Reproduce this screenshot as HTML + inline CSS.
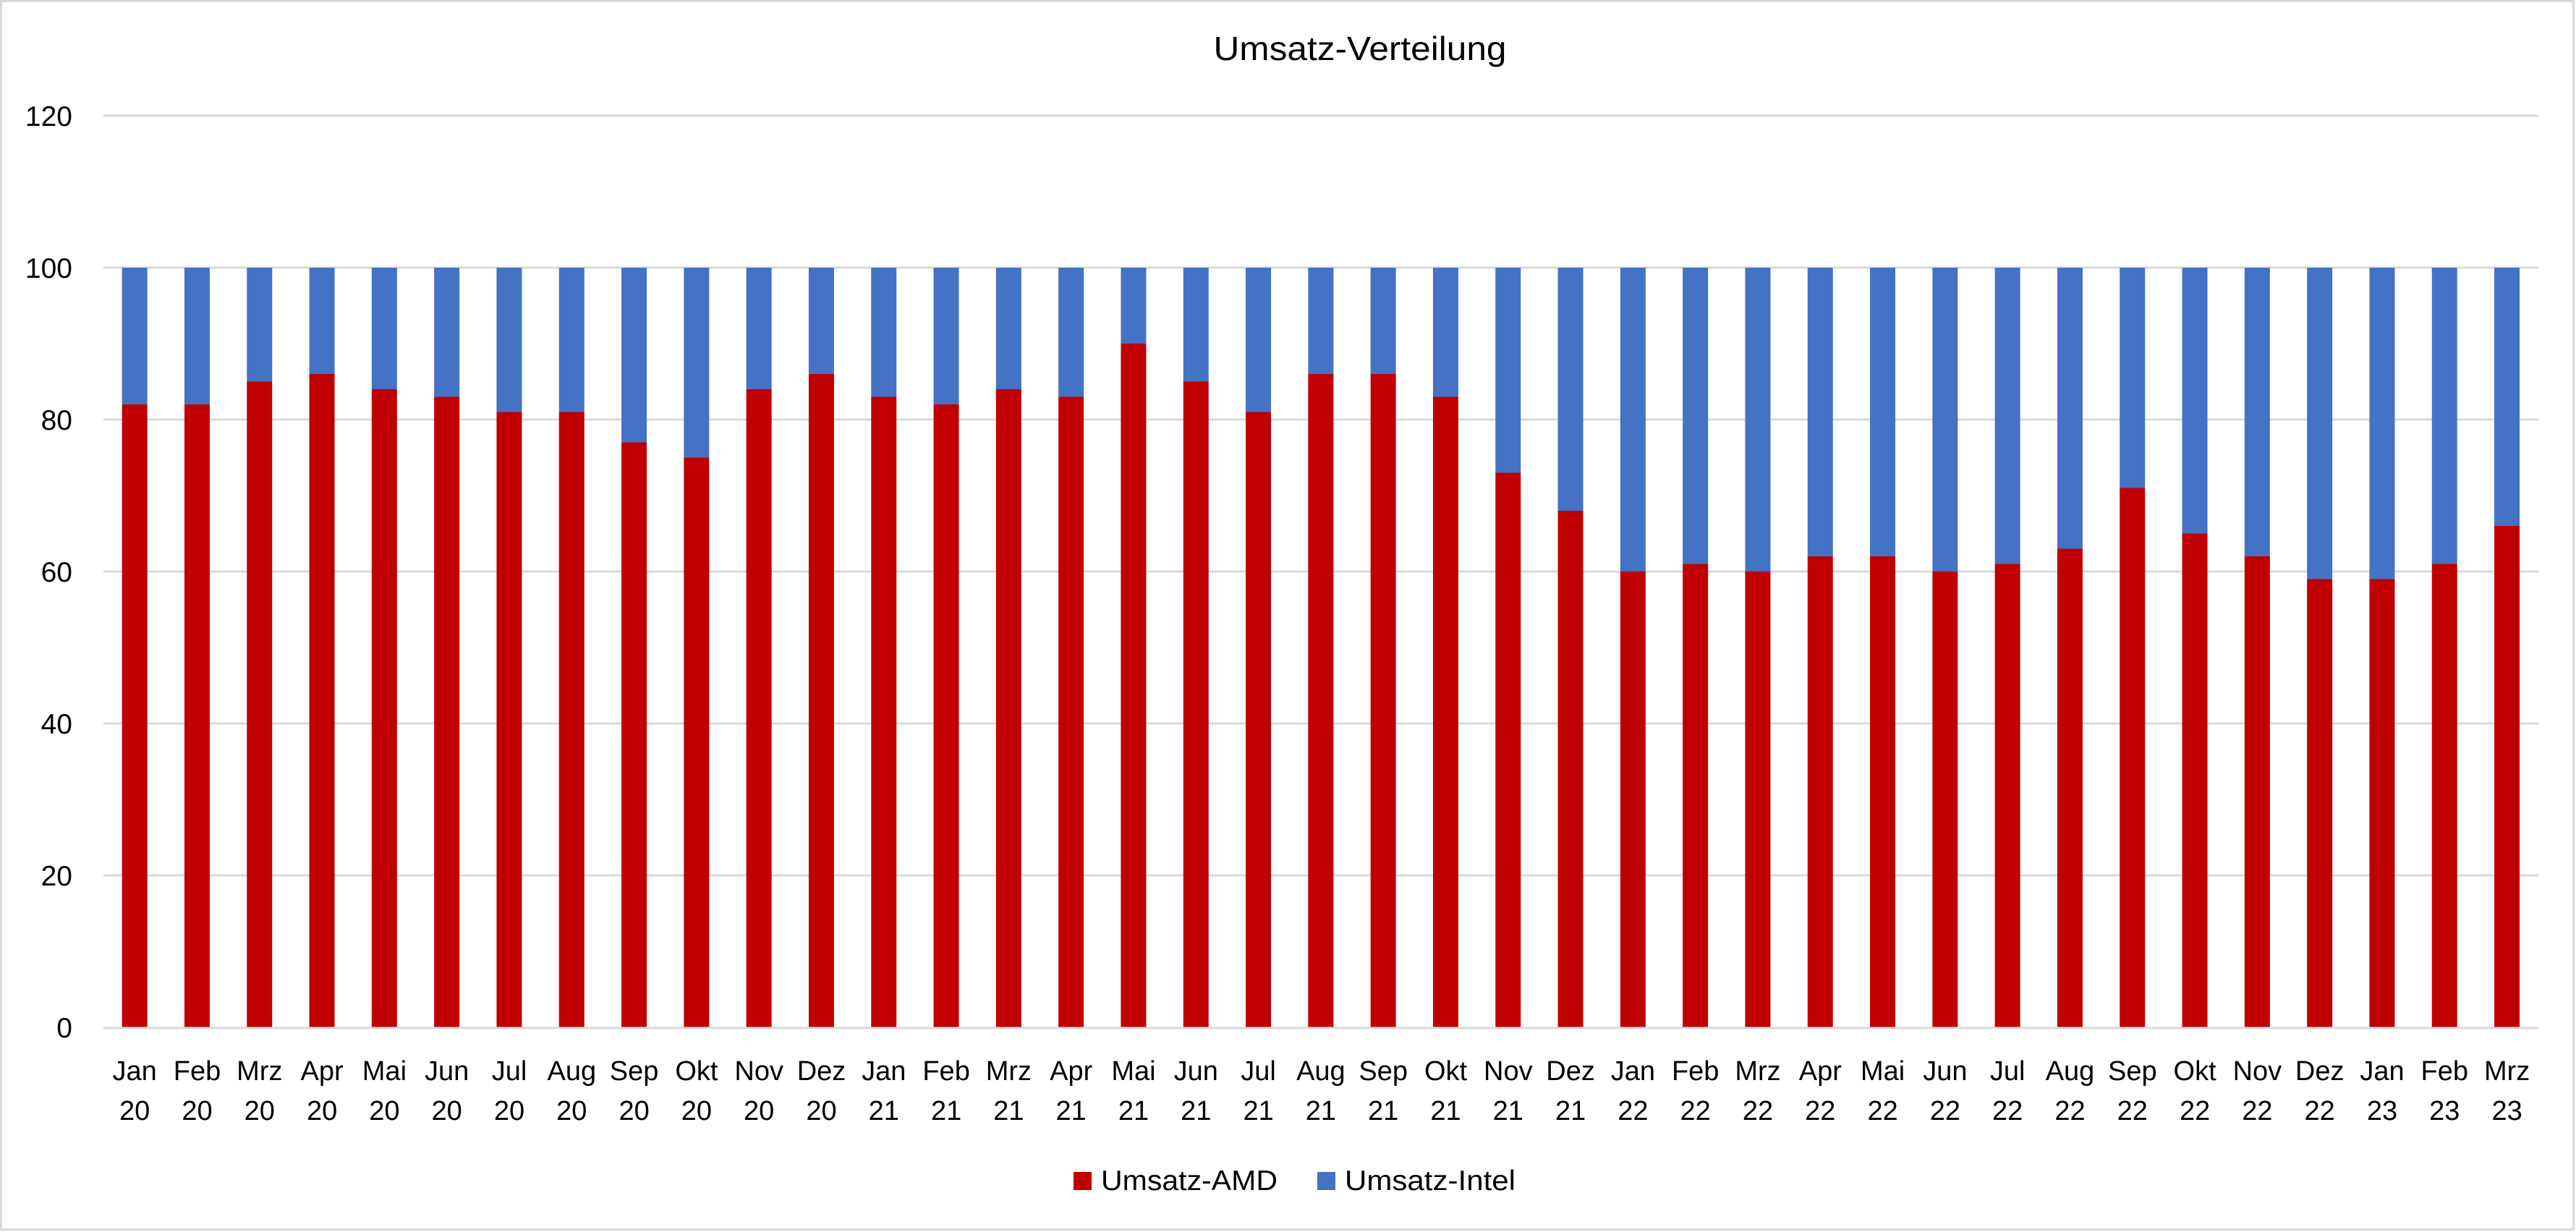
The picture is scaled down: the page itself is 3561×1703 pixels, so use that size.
<!DOCTYPE html>
<html><head><meta charset="utf-8"><style>
html,body{margin:0;padding:0;background:#fff;}
svg{display:block;}
text{font-family:"Liberation Sans",sans-serif;fill:#000;}
</style></head><body>
<svg width="3561" height="1703" viewBox="0 0 3561 1703" xmlns="http://www.w3.org/2000/svg">
<rect x="1.5" y="1.5" width="3556" height="1698" fill="#fff" stroke="#d9d9d9" stroke-width="3"/>
<text x="1880" y="83" font-size="46" text-anchor="middle" textLength="405" lengthAdjust="spacingAndGlyphs">Umsatz-Verteilung</text>
<g stroke="#d9d9d9" stroke-width="3">
<line x1="143" x2="3509" y1="160" y2="160"/>
<line x1="143" x2="3509" y1="370" y2="370"/>
<line x1="143" x2="3509" y1="580" y2="580"/>
<line x1="143" x2="3509" y1="790" y2="790"/>
<line x1="143" x2="3509" y1="1000" y2="1000"/>
<line x1="143" x2="3509" y1="1210" y2="1210"/>
</g>
<g font-size="39" text-anchor="end">
<text x="100" y="174">120</text>
<text x="100" y="384">100</text>
<text x="100" y="594">80</text>
<text x="100" y="804">60</text>
<text x="100" y="1014">40</text>
<text x="100" y="1224">20</text>
<text x="100" y="1434">0</text>
</g>
<g transform="translate(168.65 1420) scale(86.3 -10.5)">
<g fill="#c00000">
<rect x="0" y="0" width="0.4056" height="82"/><rect x="1" y="0" width="0.4056" height="82"/><rect x="2" y="0" width="0.4056" height="85"/><rect x="3" y="0" width="0.4056" height="86"/><rect x="4" y="0" width="0.4056" height="84"/><rect x="5" y="0" width="0.4056" height="83"/><rect x="6" y="0" width="0.4056" height="81"/><rect x="7" y="0" width="0.4056" height="81"/><rect x="8" y="0" width="0.4056" height="77"/><rect x="9" y="0" width="0.4056" height="75"/><rect x="10" y="0" width="0.4056" height="84"/><rect x="11" y="0" width="0.4056" height="86"/><rect x="12" y="0" width="0.4056" height="83"/><rect x="13" y="0" width="0.4056" height="82"/><rect x="14" y="0" width="0.4056" height="84"/><rect x="15" y="0" width="0.4056" height="83"/><rect x="16" y="0" width="0.4056" height="90"/><rect x="17" y="0" width="0.4056" height="85"/><rect x="18" y="0" width="0.4056" height="81"/><rect x="19" y="0" width="0.4056" height="86"/><rect x="20" y="0" width="0.4056" height="86"/><rect x="21" y="0" width="0.4056" height="83"/><rect x="22" y="0" width="0.4056" height="73"/><rect x="23" y="0" width="0.4056" height="68"/><rect x="24" y="0" width="0.4056" height="60"/><rect x="25" y="0" width="0.4056" height="61"/><rect x="26" y="0" width="0.4056" height="60"/><rect x="27" y="0" width="0.4056" height="62"/><rect x="28" y="0" width="0.4056" height="62"/><rect x="29" y="0" width="0.4056" height="60"/><rect x="30" y="0" width="0.4056" height="61"/><rect x="31" y="0" width="0.4056" height="63"/><rect x="32" y="0" width="0.4056" height="71"/><rect x="33" y="0" width="0.4056" height="65"/><rect x="34" y="0" width="0.4056" height="62"/><rect x="35" y="0" width="0.4056" height="59"/><rect x="36" y="0" width="0.4056" height="59"/><rect x="37" y="0" width="0.4056" height="61"/><rect x="38" y="0" width="0.4056" height="66"/>
</g>
<g fill="#4472c4">
<rect x="0" y="82" width="0.4056" height="18"/><rect x="1" y="82" width="0.4056" height="18"/><rect x="2" y="85" width="0.4056" height="15"/><rect x="3" y="86" width="0.4056" height="14"/><rect x="4" y="84" width="0.4056" height="16"/><rect x="5" y="83" width="0.4056" height="17"/><rect x="6" y="81" width="0.4056" height="19"/><rect x="7" y="81" width="0.4056" height="19"/><rect x="8" y="77" width="0.4056" height="23"/><rect x="9" y="75" width="0.4056" height="25"/><rect x="10" y="84" width="0.4056" height="16"/><rect x="11" y="86" width="0.4056" height="14"/><rect x="12" y="83" width="0.4056" height="17"/><rect x="13" y="82" width="0.4056" height="18"/><rect x="14" y="84" width="0.4056" height="16"/><rect x="15" y="83" width="0.4056" height="17"/><rect x="16" y="90" width="0.4056" height="10"/><rect x="17" y="85" width="0.4056" height="15"/><rect x="18" y="81" width="0.4056" height="19"/><rect x="19" y="86" width="0.4056" height="14"/><rect x="20" y="86" width="0.4056" height="14"/><rect x="21" y="83" width="0.4056" height="17"/><rect x="22" y="73" width="0.4056" height="27"/><rect x="23" y="68" width="0.4056" height="32"/><rect x="24" y="60" width="0.4056" height="40"/><rect x="25" y="61" width="0.4056" height="39"/><rect x="26" y="60" width="0.4056" height="40"/><rect x="27" y="62" width="0.4056" height="38"/><rect x="28" y="62" width="0.4056" height="38"/><rect x="29" y="60" width="0.4056" height="40"/><rect x="30" y="61" width="0.4056" height="39"/><rect x="31" y="63" width="0.4056" height="37"/><rect x="32" y="71" width="0.4056" height="29"/><rect x="33" y="65" width="0.4056" height="35"/><rect x="34" y="62" width="0.4056" height="38"/><rect x="35" y="59" width="0.4056" height="41"/><rect x="36" y="59" width="0.4056" height="41"/><rect x="37" y="61" width="0.4056" height="39"/><rect x="38" y="66" width="0.4056" height="34"/>
</g>
</g>
<line x1="143" x2="3509" y1="1421" y2="1421" stroke="#d9d9d9" stroke-width="3"/>
<g font-size="38" text-anchor="middle">
<text x="186.2" y="1493">Jan</text><text x="186.2" y="1548">20</text>
<text x="272.5" y="1493">Feb</text><text x="272.5" y="1548">20</text>
<text x="358.8" y="1493">Mrz</text><text x="358.8" y="1548">20</text>
<text x="445.1" y="1493">Apr</text><text x="445.1" y="1548">20</text>
<text x="531.4" y="1493">Mai</text><text x="531.4" y="1548">20</text>
<text x="617.7" y="1493">Jun</text><text x="617.7" y="1548">20</text>
<text x="704" y="1493">Jul</text><text x="704" y="1548">20</text>
<text x="790.3" y="1493">Aug</text><text x="790.3" y="1548">20</text>
<text x="876.6" y="1493">Sep</text><text x="876.6" y="1548">20</text>
<text x="962.9" y="1493">Okt</text><text x="962.9" y="1548">20</text>
<text x="1049.2" y="1493">Nov</text><text x="1049.2" y="1548">20</text>
<text x="1135.5" y="1493">Dez</text><text x="1135.5" y="1548">20</text>
<text x="1221.8" y="1493">Jan</text><text x="1221.8" y="1548">21</text>
<text x="1308.1" y="1493">Feb</text><text x="1308.1" y="1548">21</text>
<text x="1394.4" y="1493">Mrz</text><text x="1394.4" y="1548">21</text>
<text x="1480.7" y="1493">Apr</text><text x="1480.7" y="1548">21</text>
<text x="1567" y="1493">Mai</text><text x="1567" y="1548">21</text>
<text x="1653.3" y="1493">Jun</text><text x="1653.3" y="1548">21</text>
<text x="1739.6" y="1493">Jul</text><text x="1739.6" y="1548">21</text>
<text x="1825.9" y="1493">Aug</text><text x="1825.9" y="1548">21</text>
<text x="1912.2" y="1493">Sep</text><text x="1912.2" y="1548">21</text>
<text x="1998.5" y="1493">Okt</text><text x="1998.5" y="1548">21</text>
<text x="2084.8" y="1493">Nov</text><text x="2084.8" y="1548">21</text>
<text x="2171.1" y="1493">Dez</text><text x="2171.1" y="1548">21</text>
<text x="2257.4" y="1493">Jan</text><text x="2257.4" y="1548">22</text>
<text x="2343.7" y="1493">Feb</text><text x="2343.7" y="1548">22</text>
<text x="2430" y="1493">Mrz</text><text x="2430" y="1548">22</text>
<text x="2516.3" y="1493">Apr</text><text x="2516.3" y="1548">22</text>
<text x="2602.6" y="1493">Mai</text><text x="2602.6" y="1548">22</text>
<text x="2688.9" y="1493">Jun</text><text x="2688.9" y="1548">22</text>
<text x="2775.2" y="1493">Jul</text><text x="2775.2" y="1548">22</text>
<text x="2861.5" y="1493">Aug</text><text x="2861.5" y="1548">22</text>
<text x="2947.8" y="1493">Sep</text><text x="2947.8" y="1548">22</text>
<text x="3034.1" y="1493">Okt</text><text x="3034.1" y="1548">22</text>
<text x="3120.4" y="1493">Nov</text><text x="3120.4" y="1548">22</text>
<text x="3206.7" y="1493">Dez</text><text x="3206.7" y="1548">22</text>
<text x="3293" y="1493">Jan</text><text x="3293" y="1548">23</text>
<text x="3379.3" y="1493">Feb</text><text x="3379.3" y="1548">23</text>
<text x="3465.6" y="1493">Mrz</text><text x="3465.6" y="1548">23</text>
</g>
<rect x="1484" y="1620" width="25" height="25" fill="#c00000"/>
<text x="1522" y="1645" font-size="39" textLength="244" lengthAdjust="spacingAndGlyphs">Umsatz-AMD</text>
<rect x="1821" y="1620" width="25" height="25" fill="#4472c4"/>
<text x="1859" y="1645" font-size="39" textLength="236" lengthAdjust="spacingAndGlyphs">Umsatz-Intel</text>
</svg>
</body></html>
